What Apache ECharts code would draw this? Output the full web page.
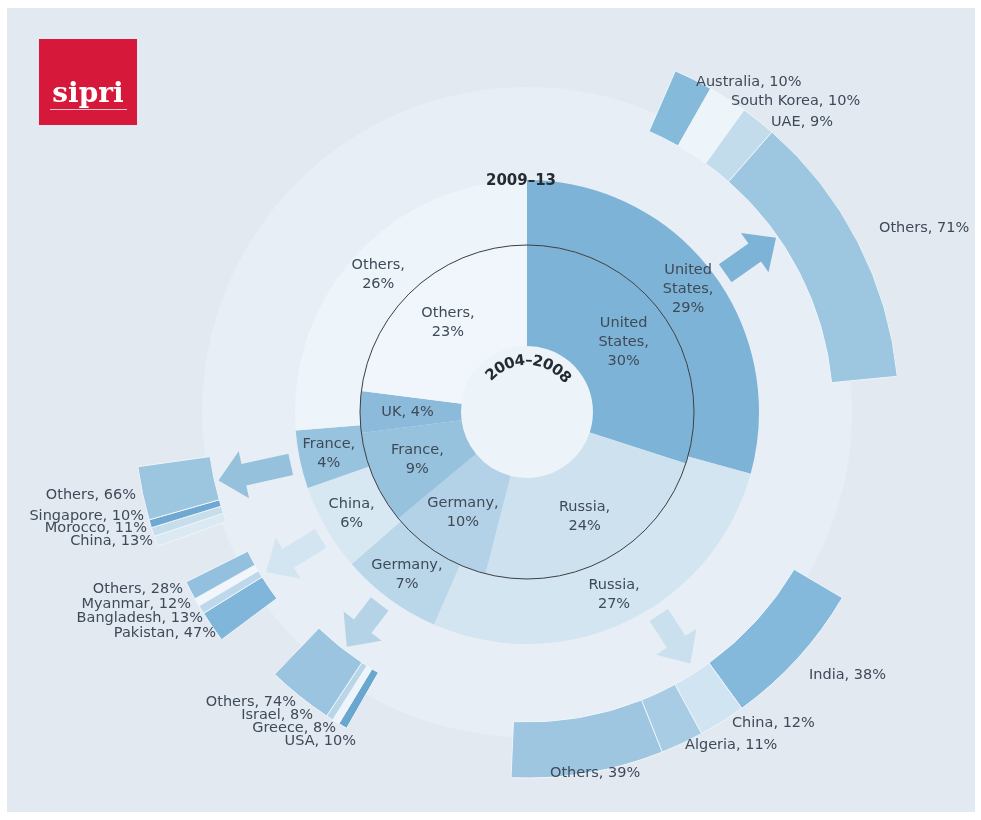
<!DOCTYPE html>
<html>
<head>
<meta charset="utf-8">
<title>SIPRI - main arms exporters and their recipients</title>
<script src="https://cdn.jsdelivr.net/npm/echarts@6/dist/echarts.min.js"></script>
<style>
html, body { margin: 0; padding: 0; background: #fff; }
#main { width: 981px; height: 820px; }
</style>
</head>
<body>
<div id="main"></div>
<script>
// share of global arms exports, 2004-2008 (inner ring)
const periodInner = '2004–2008';
const innerNames = ['United States', 'Russia', 'Germany', 'France', 'UK', 'Others'];
const innerValues = [30, 24, 10, 9, 4, 23];

// share of global arms exports, 2009-13 (outer ring)
const periodOuter = '2009–13';
const outerNames = ['United States', 'Russia', 'Germany', 'China', 'France', 'Others'];
const outerValues = [29, 27, 7, 6, 4, 26];

// recipients of each big exporter, 2009-13
const usNames = ['Australia', 'South Korea', 'UAE', 'Others'];
const usValues = [10, 10, 9, 71];
const ruNames = ['India', 'China', 'Algeria', 'Others'];
const ruValues = [38, 12, 11, 39];
const deNames = ['USA', 'Greece', 'Israel', 'Others'];
const deValues = [10, 8, 8, 74];
const cnNames = ['Pakistan', 'Bangladesh', 'Myanmar', 'Others'];
const cnValues = [47, 13, 12, 28];
const frNames = ['China', 'Morocco', 'Singapore', 'Others'];
const frValues = [13, 11, 10, 66];

// layout
const CX = 527, CY = 412;
const R_HOLE = 66, R_MID = 167, R_OUT = 232, R_HALO = 325;
const TEXT = '#3f4a58';
const FONT = 'DejaVu Sans';
const FONT_SIZE = 14.5;

const innerColors = ['#7db3d6', '#cde1ef', '#b3d2e7', '#97c2de', '#8bbadb', '#f0f6fb'];
const outerColors = ['#7db3d6', '#d2e5f1', '#bad7ea', '#d8e8f3', '#98c3df', '#edf4fa'];

// start = degrees clockwise from 12 o'clock, span = degrees for 100 %
const groups = [
    { names: usNames, values: usValues, start: 23.5, span: 61, r: [306, 372],
      colors: ['#86badb', '#eef5fa', '#c3dcec', '#9dc6e1'],
      labels: [[696, 82, 'left'], [731, 101, 'left'], [771, 122, 'left'], [879, 228, 'left']] },
    { names: ruNames, values: ruValues, start: 120.5, span: 62, r: [310, 366],
      colors: ['#84b9db', '#d0e4f1', '#a8cce4', '#9ec6e1'],
      labels: [[809, 675, 'left'], [732, 723, 'left'], [685, 745, 'left'], [550, 773, 'left']] },
    { names: deNames, values: deValues, start: 209.7, span: 14.2, r: [300, 364],
      colors: ['#6aa7d0', '#eef5fa', '#b9d6e9', '#9ac4e0'],
      labels: [[356, 741, 'right'], [336, 728, 'right'], [313, 715, 'right'], [296, 702, 'right']] },
    { names: cnNames, values: cnValues, start: 233.3, span: 10.2, r: [312, 381],
      colors: ['#80b6d9', '#bcd8ea', '#f0f6fb', '#93c0de'],
      labels: [[216, 633, 'right'], [203, 618, 'right'], [191, 604, 'right'], [183, 589, 'right']] },
    { names: frNames, values: frValues, start: 250, span: 12, r: [320, 393],
      colors: ['#dbe9f3', '#c6ddec', '#6fa8d1', '#9cc5e0'],
      labels: [[153, 541, 'right'], [147, 528, 'right'], [144, 516, 'right'], [136, 495, 'right']] }
];

const arrows = [
    { angle: 55, tip: 304, color: '#7db3d6' },
    { angle: 147, tip: 300, color: '#cbe0ee' },
    { angle: 217.5, tip: 296, color: '#b5d3e7' },
    { angle: 238.5, tip: 306, color: '#d3e5f1' },
    { angle: 257.5, tip: 316, color: '#96c1dd' }
];

function polar(r, deg, across) {
    const t = deg * Math.PI / 180;
    across = across || 0;
    return [CX + r * Math.sin(t) + across * Math.cos(t), CY - r * Math.cos(t) + across * Math.sin(t)];
}

function arrowPoints(a) {
    const base = 242, hs = 11, hh = 24, neck = a.tip - 26;
    return [[base, -hs], [neck, -hs], [neck, -hh], [a.tip, 0], [neck, hh], [neck, hs], [base, hs]]
        .map(p => polar(p[0], a.angle, p[1]));
}

function ringLabel(p) {
    const name = p.name.length > 2 ? p.name.replace(' ', '\n') + ',\n' : p.name + ', ';
    return name + p.value + '%';
}

function ringSeries(names, values, colors, radius) {
    return {
        type: 'pie',
        center: [CX, CY],
        radius: radius,
        startAngle: 90,
        clockwise: true,
        silent: true,
        animation: false,
        avoidLabelOverlap: false,
        label: {
            show: true, position: 'inside', formatter: ringLabel,
            color: TEXT, fontSize: FONT_SIZE, lineHeight: 19, fontFamily: FONT
        },
        labelLine: { show: false },
        itemStyle: { borderWidth: 0 },
        data: names.map((n, i) => ({ name: n, value: values[i], itemStyle: { color: colors[i] } }))
    };
}

function groupSeries(g) {
    const total = g.values.reduce((a, b) => a + b, 0);
    const filler = total * (360 / g.span - 1);
    return {
        type: 'pie',
        center: [CX, CY],
        radius: g.r,
        startAngle: ((90 - g.start) % 360 + 360) % 360,
        clockwise: true,
        silent: true,
        animation: false,
        label: { show: false },
        labelLine: { show: false },
        itemStyle: { borderColor: '#eef5fa', borderWidth: 1 },
        data: g.names.map((n, i) => ({ name: n, value: g.values[i], itemStyle: { color: g.colors[i] } }))
            .concat([{ name: '', value: filler, itemStyle: { color: 'rgba(0,0,0,0)', borderWidth: 0 } }])
    };
}

// curved "2004–2008" title along the top of the hole
function curvedTitle(text, r, centerDeg) {
    const font = 'bold 15px ' + FONT;
    const ctx = document.createElement('canvas').getContext('2d');
    ctx.font = font;
    const widths = text.split('').map(ch => ctx.measureText(ch).width);
    const total = widths.reduce((a, b) => a + b, 0);
    let acc = 0;
    return text.split('').map((ch, i) => {
        const mid = acc + widths[i] / 2;
        acc += widths[i];
        const deg = centerDeg + (mid - total / 2) / r * 180 / Math.PI;
        const pos = polar(r, deg);
        return {
            type: 'text', x: pos[0], y: pos[1], rotation: -deg * Math.PI / 180, z: 20,
            style: {
                text: ch, fill: '#262b31', font: font,
                align: 'center', verticalAlign: 'middle', textAlign: 'center', textVerticalAlign: 'middle'
            }
        };
    });
}

const graphics = [
    { type: 'rect', z: -10, shape: { x: 7, y: 8, width: 968, height: 804 }, style: { fill: '#e2e9f1' } },
    { type: 'circle', z: -9, shape: { cx: CX, cy: CY, r: R_HALO }, style: { fill: '#e7eef6' } },
    { type: 'circle', z: -8, shape: { cx: CX, cy: CY, r: R_HOLE }, style: { fill: '#ecf3f9' } },
    { type: 'circle', z: 20, shape: { cx: CX, cy: CY, r: R_MID }, style: { fill: 'none', stroke: '#3b3f44', lineWidth: 1 } },
    {
        type: 'text', x: 521, y: 181, z: 20,
        style: {
            text: periodOuter, fill: '#262b31', font: 'bold 15px ' + FONT,
            align: 'center', verticalAlign: 'middle', textAlign: 'center', textVerticalAlign: 'middle'
        }
    },
    // sipri logo
    { type: 'rect', z: 20, shape: { x: 39, y: 39, width: 98, height: 86 }, style: { fill: '#d6183a' } },
    {
        type: 'text', x: 88, y: 95, z: 21,
        style: {
            text: 'sipri', fill: '#ffffff', font: 'bold 28px DejaVu Serif',
            align: 'center', verticalAlign: 'middle', textAlign: 'center', textVerticalAlign: 'middle'
        }
    },
    { type: 'line', z: 21, shape: { x1: 50, y1: 109.5, x2: 127, y2: 109.5 }, style: { stroke: '#f3c4cc', lineWidth: 1 } }
];

arrows.forEach(a => {
    graphics.push({ type: 'polygon', z: -5, shape: { points: arrowPoints(a) }, style: { fill: a.color } });
});

groups.forEach(g => {
    g.names.forEach((n, i) => {
        const l = g.labels[i];
        graphics.push({
            type: 'text', x: l[0], y: l[1], z: 20,
            style: {
                text: n + ', ' + g.values[i] + '%', fill: TEXT, font: FONT_SIZE + 'px ' + FONT,
                align: l[2], verticalAlign: 'middle', textAlign: l[2], textVerticalAlign: 'middle'
            }
        });
    });
});

curvedTitle(periodInner, 51, 2).forEach(t => graphics.push(t));

const chart = echarts.init(document.getElementById('main'));
chart.setOption({
    backgroundColor: '#ffffff',
    animation: false,
    graphic: { elements: graphics },
    series: [
        ringSeries(innerNames, innerValues, innerColors, [R_HOLE, R_MID]),
        ringSeries(outerNames, outerValues, outerColors, [R_MID, R_OUT])
    ].concat(groups.map(groupSeries))
});
</script>
</body>
</html>
